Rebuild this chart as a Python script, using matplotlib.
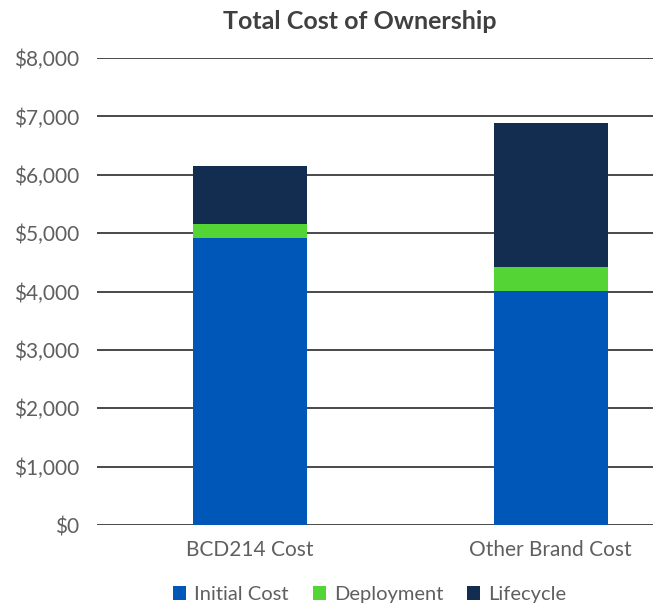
import numpy as np
import matplotlib.pyplot as plt

plt.rcParams['font.family'] = ['Lato', 'DejaVu Sans']

categories = ['BCD214 Cost', 'Other Brand Cost']
initial_cost = [4920, 4010]
deployment = [240, 420]
lifecycle = [990, 2450]
yticks = [0, 1000, 2000, 3000, 4000, 5000, 6000, 7000, 8000]

colors = {'Initial Cost': '#0057b8', 'Deployment': '#55d435', 'Lifecycle': '#132d50'}

fig = plt.figure(figsize=(6.53, 6.05), dpi=100)
ax = fig.add_axes([0.1485, 0.132, 0.8515, 0.772])

x = np.arange(len(categories))
bottom = np.zeros(len(categories))
handles = []
for name, vals in [('Initial Cost', initial_cost), ('Deployment', deployment), ('Lifecycle', lifecycle)]:
    h = ax.bar(x, vals, width=0.38, bottom=bottom, color=colors[name], label=name, zorder=3)
    handles.append(h)
    bottom += np.array(vals)

ax.set_ylim(0, 8000)
ax.set_xlim(-0.508, 1.34)
ax.set_yticks(yticks)
ax.set_yticklabels(['${:,}'.format(v) for v in yticks])
ax.set_xticks(x)
ax.set_xticklabels(categories)
ax.yaxis.grid(True, color='#3a3a3a', linewidth=1.3, zorder=1)
ax.tick_params(axis='both', length=0, labelsize=15, labelcolor='#5f5f5f')
ax.tick_params(axis='y', pad=13)
ax.tick_params(axis='x', pad=11)
for s in ax.spines.values():
    s.set_visible(False)

fig.text(0.551, 0.965, 'Total Cost of Ownership', ha='center', va='center',
         fontsize=18, fontweight='bold', color='#404040')

fig.legend(handles=handles, loc='center', bbox_to_anchor=(0.566, 0.017), ncol=3,
           frameon=False, fontsize=14.5, labelcolor='#5f5f5f', handlelength=0.65,
           handleheight=0.65, handletextpad=0.4, columnspacing=1.2)

fig.savefig('out.png', dpi=100)
